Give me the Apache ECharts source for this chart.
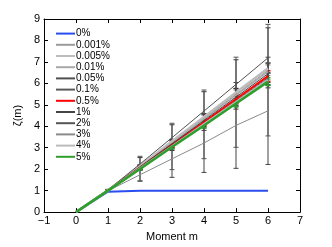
<!DOCTYPE html>
<html><head><meta charset="utf-8">
<script src="https://cdn.jsdelivr.net/npm/echarts@6/dist/echarts.min.js"></script>
<style>html,body{margin:0;padding:0;background:#fff}#c{width:332px;height:247px}</style>
</head><body><div id="c"></div>
<script>
var moments = [0, 1, 2, 3, 4, 5, 6];
var names = ['0%','0.001%','0.005%','0.01%','0.05%','0.1%','0.5%','1%','2%','3%','4%','5%'];
var v0     = [0, 0.95, 1.0, 1.0, 1.0, 1.0, 1.0];
var v0001  = [0, 1.02, 2.13, 3.25, 4.37, 5.49, 6.61];
var v0005  = [0, 1.02, 2.15, 3.30, 4.43, 5.58, 6.71];
var v001   = [0, 1.01, 2.11, 3.22, 4.33, 5.45, 6.55];
var v005   = [0, 1.03, 2.24, 3.47, 4.71, 5.95, 7.19];
var v01    = [0, 1.01, 2.05, 3.11, 4.15, 5.20, 6.26];
var v05    = [0, 1.02, 2.08, 3.15, 4.20, 5.27, 6.34];
var v1     = [0, 1.02, 2.10, 3.18, 4.27, 5.36, 6.45];
var v2     = [0, 1.00, 2.04, 3.09, 4.12, 5.16, 6.20];
var v3     = [0, 0.99, 1.74, 2.48, 3.22, 4.04, 4.72];
var v4     = [0, 1.00, 2.03, 3.06, 4.09, 5.12, 6.15];
var v5     = [0, 1.00, 2.01, 3.03, 4.04, 5.06, 6.08];
// error half-widths at m = 0..6
var e0     = [0, 0, 0, 0, 0, 0, 0];
var e0001  = [0, 0, 0.05, 0.10, 0.15, 0.20, 0.25];
var e0005  = [0, 0, 0.05, 0.10, 0.15, 0.20, 0.25];
var e001   = [0, 0, 0.08, 0.15, 0.22, 0.30, 0.38];
var e005   = [0, 0.03, 0.30, 0.60, 0.90, 1.15, 1.40];
var e01    = [0, 0, 0.05, 0.10, 0.15, 0.20, 0.22];
var e05    = [0, 0.02, 0.08, 0.12, 0.16, 0.20, 0.25];
var e1     = [0, 0, 0.10, 0.20, 0.30, 0.40, 0.50];
var e2     = [0, 0, 0.08, 0.15, 0.20, 0.25, 0.30];
var e3     = [0, 0.03, 0.30, 0.86, 1.37, 2.00, 2.50];
var e4     = [0, 0.03, 0.57, 1.08, 1.60, 2.10, 2.60];
var e5     = [0, 0.02, 0.05, 0.08, 0.12, 0.15, 0.18];
var xTicks = [-1, 0, 1, 2, 3, 4, 5, 6, 7];
var yTicks = [0, 1, 2, 3, 4, 5, 6, 7, 8, 9];

var vals = [v0, v0001, v0005, v001, v005, v01, v05, v1, v2, v3, v4, v5];
var errs = [e0, e0001, e0005, e001, e005, e01, e05, e1, e2, e3, e4, e5];
var colors = ['#2a4df0','#9a9a9a','#bdbdbd','#a8a8a8','#505050','#5a5a5a','#ff0000','#444444','#555555','#8a8a8a','#bbbbbb','#2ca02c'];
var errColors = ['#2a4df0','#777777','#999999','#888888','#333333','#444444','#ff0000','#333333','#444444','#444444','#555555','#2ca02c'];
var widths = [2, 1, 2.5, 1.5, 1, 1, 2, 1, 1, 1, 2.5, 2.5];

var series = [];
for (var i = 0; i < names.length; i++) {
  (function(i){
    var eb = [];
    for (var k = 1; k < moments.length; k++) {
      if (errs[i][k] > 0) eb.push([moments[k], vals[i][k] - errs[i][k], vals[i][k] + errs[i][k]]);
    }
    if (eb.length) {
      series.push({
        type: 'custom', name: names[i] + ' err', silent: true, z: 2,
        data: eb,
        renderItem: function (params, api) {
          var x = api.value(0);
          var lo = api.coord([x, api.value(1)]);
          var hi = api.coord([x, api.value(2)]);
          var st = {stroke: errColors[i], lineWidth: (i === 6 || i === 11) ? 1.5 : 1};
          return {type: 'group', children: [
            {type: 'line', shape: {x1: lo[0], y1: lo[1], x2: hi[0], y2: hi[1]}, style: st},
            {type: 'line', shape: {x1: lo[0]-2.5, y1: lo[1], x2: lo[0]+2.5, y2: lo[1]}, style: st},
            {type: 'line', shape: {x1: hi[0]-2.5, y1: hi[1], x2: hi[0]+2.5, y2: hi[1]}, style: st}
          ]};
        }
      });
    }
    series.push({
      type: 'line', name: names[i], symbol: 'none', z: 3,
      data: moments.map(function (m, k) { return [m, vals[i][k]]; }),
      lineStyle: {color: colors[i], width: widths[i]},
      itemStyle: {color: colors[i]}
    });
  })(i);
}

function axisCommon(extra) {
  var o = {
    axisLine: {show: true, onZero: false, lineStyle: {color: '#000', width: 1}},
    axisTick: {show: true, inside: true, length: 4, lineStyle: {color: '#000'}},
    splitLine: {show: false}
  };
  for (var k in extra) o[k] = extra[k];
  return o;
}
var legendData = names.map(function (n, i) {
  return {name: n, icon: 'rect', itemStyle: {color: colors[i]}};
});
var chart = echarts.init(document.getElementById('c'));
chart.setOption({
  animation: false,
  backgroundColor: '#fff',
  grid: {left: 44, right: 32, top: 19, bottom: 28, containLabel: false},
  legend: {
    data: legendData, orient: 'vertical', left: 51, top: 23,
    itemWidth: 19, itemHeight: 2, itemGap: 0,
    textStyle: {fontSize: 10, color: '#000', fontFamily: 'Liberation Sans', lineHeight: 11.2, padding: [0,0,0,-4]}
  },
  xAxis: [
    axisCommon({type: 'value', min: -1, max: 7, interval: 1, position: 'bottom',
      name: 'Moment m', nameLocation: 'middle', nameGap: 17,
      nameTextStyle: {fontSize: 11, color: '#000', fontFamily: 'Liberation Sans'},
      axisLabel: {fontSize: 11, color: '#000', margin: 3, fontFamily: 'Liberation Sans',
        formatter: function (v) { return v < 0 ? '\u2212' + (-v) : String(v); }}}),
    axisCommon({type: 'value', min: -1, max: 7, interval: 1, position: 'top', axisLabel: {show: false}})
  ],
  yAxis: [
    axisCommon({type: 'value', min: 0, max: 9, interval: 1, position: 'left',
      name: '\u03b6(m)', nameLocation: 'middle', nameGap: 12,
      nameTextStyle: {fontSize: 11, color: '#000', fontFamily: 'Liberation Sans'},
      axisLabel: {fontSize: 11, color: '#000', margin: 4, fontFamily: 'Liberation Sans'}}),
    axisCommon({type: 'value', min: 0, max: 9, interval: 1, position: 'right', axisLabel: {show: false}})
  ],
  series: series
});
</script></body></html>
